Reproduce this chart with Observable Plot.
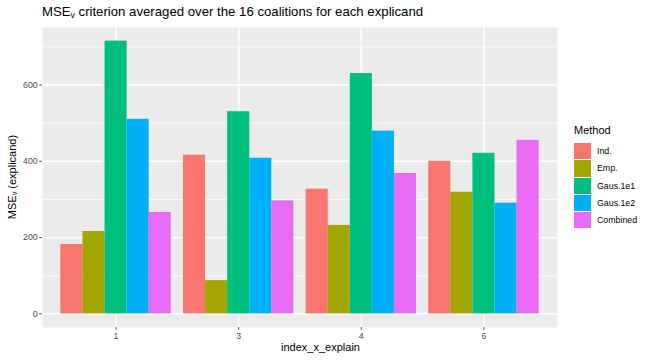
<!DOCTYPE html>
<html><head><meta charset="utf-8">
<script src="https://cdn.jsdelivr.net/npm/d3@7"></script>
<script src="https://cdn.jsdelivr.net/npm/@observablehq/plot@0.6"></script>
<style>
body{margin:0;background:#fff;font-family:"Liberation Sans",Arial,sans-serif;}
#wrap{position:relative;width:648px;height:360px;overflow:hidden;}
#title{position:absolute;left:42px;top:4px;font-size:13.2px;line-height:15px;color:#000;white-space:nowrap;}
#title sub,#ytitle sub{font-size:0.65em;vertical-align:-0.25em;line-height:0;}
#chart{position:absolute;left:0;top:22px;}
#xtitle{position:absolute;left:0;width:599px;text-align:center;padding-left:42px;box-sizing:border-box;top:341px;font-size:11px;line-height:13px;color:#000;}
#ytitle{position:absolute;left:12px;top:177px;font-size:11px;line-height:13px;color:#000;white-space:nowrap;transform:translate(-50%,-50%) rotate(-90deg);}
#legend{position:absolute;left:574px;top:124px;color:#000;}
#legend .lt{font-size:11px;line-height:13px;margin-bottom:6px;}
#legend .row{display:flex;align-items:center;height:17.3px;}
#legend .key{width:17px;height:16.3px;margin-bottom:1px;}
#legend .lab{font-size:8.8px;margin-left:6px;margin-bottom:1px;}
</style>
</head><body>
<div id="wrap">
  <div id="title">MSE<sub>v</sub> criterion averaged over the 16 coalitions for each explicand</div>
  <div id="chart"></div>
  <div id="ytitle">MSE<sub>v</sub> (explicand)</div>
  <div id="xtitle">index_x_explain</div>
  <div id="legend"></div>
</div>
<script>
const groups = ["1", "3", "4", "6"];
const methods = ["Ind.", "Emp.", "Gaus.1e1", "Gaus.1e2", "Combined"];
const indValues = [182, 416, 327, 400];
const empValues = [216, 87, 232, 319];
const gaus1e1Values = [715, 530, 630, 421];
const gaus1e2Values = [510, 408, 479, 290];
const combinedValues = [266, 296, 368, 455];
const methodColors = ["#F8766D", "#A3A500", "#00BF7D", "#00B0F6", "#E76BF3"];
const yMajorTicks = [0, 200, 400, 600];
const yMinorTicks = [100, 300, 500, 700];

const series = [indValues, empValues, gaus1e1Values, gaus1e2Values, combinedValues];
const rows = [];
groups.forEach((g, gi) => {
  methods.forEach((m, mi) => {
    rows.push({group: g, gi, method: m, mi, value: series[mi][gi]});
  });
});

const barW = 0.9 / methods.length;
const maxV = d3.max(rows, d => d.value);
const pad = maxV * 0.05;

const chart = Plot.plot({
  width: 648,
  height: 338,
  marginLeft: 42,
  marginRight: 91,
  marginTop: 5,
  marginBottom: 33,
  style: {fontFamily: "Liberation Sans, Arial, sans-serif", fontSize: "8.8px", background: "transparent"},
  x: {type: "linear", domain: [-0.6, groups.length - 0.4]},
  y: {domain: [-pad, maxV + pad]},
  color: {domain: methods, range: methodColors},
  marks: [
    Plot.frame({fill: "#EBEBEB", stroke: null}),
    Plot.ruleY(yMinorTicks, {stroke: "white", strokeWidth: 0.7}),
    Plot.ruleY(yMajorTicks, {stroke: "white", strokeWidth: 1.4}),
    Plot.ruleX(d3.range(groups.length), {stroke: "white", strokeWidth: 1.4}),
    Plot.rect(rows, {
      x1: d => d.gi - 0.45 + d.mi * barW,
      x2: d => d.gi - 0.45 + (d.mi + 1) * barW,
      y1: 0,
      y2: "value",
      fill: "method"
    }),
    Plot.axisX({ticks: d3.range(groups.length), tickFormat: i => groups[i], tickSize: 2.75, tickPadding: 2, label: null, color: "#4D4D4D", fontSize: 8.8}),
    Plot.axisY({ticks: yMajorTicks, tickSize: 2.75, tickPadding: 2, label: null, color: "#4D4D4D", fontSize: 8.8})
  ]
});
document.getElementById("chart").appendChild(chart);

const legend = d3.select("#legend");
legend.append("div").attr("class", "lt").text("Method");
methods.forEach((m, i) => {
  const r = legend.append("div").attr("class", "row");
  r.append("div").attr("class", "key").style("background", methodColors[i]);
  r.append("div").attr("class", "lab").text(m);
});
</script>
</body></html>
